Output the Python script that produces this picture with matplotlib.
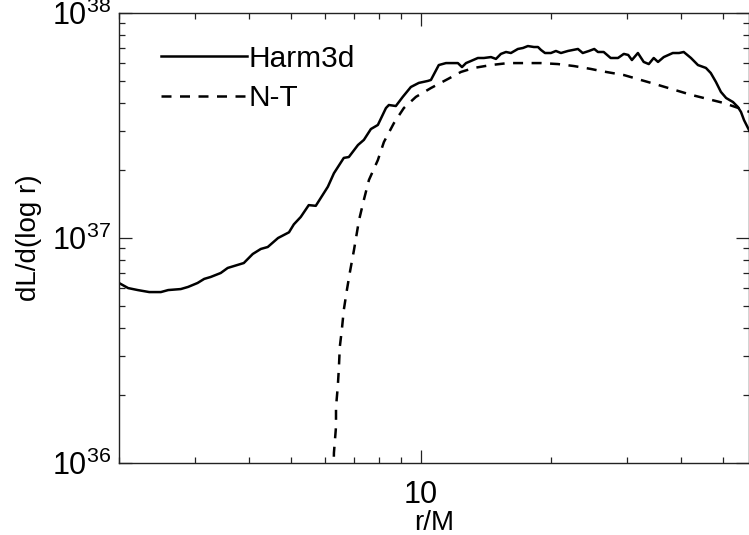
import numpy as np
import matplotlib
matplotlib.use("Agg")
import matplotlib.pyplot as plt
from matplotlib.ticker import LogLocator, NullFormatter, FuncFormatter, FixedLocator, FixedFormatter

# ------------------------------------------------------------
# data (r/M, dL/dlog r)
# ------------------------------------------------------------
R_HARM = [2.00, 2.10, 2.21, 2.35, 2.50, 2.60, 2.78, 2.89, 3.04, 3.15,
          3.26, 3.44, 3.57, 3.89, 4.08, 4.26, 4.42, 4.67, 4.95, 5.08,
          5.27, 5.50, 5.71, 6.09, 6.29, 6.63, 6.81, 7.15, 7.38, 7.66,
          7.95, 8.30, 8.43, 8.75, 9.08, 9.48, 9.89, 10.38, 10.55, 11.0,
          11.43, 11.74, 12.18, 12.45, 12.72, 13.06, 13.55, 13.99, 14.53, 14.92,
          15.32, 15.74, 16.16, 16.77, 17.23, 17.69, 18.27, 18.67, 18.97, 19.38,
          20.0, 20.54, 21.1, 21.9, 23.1, 23.7, 24.5, 25.2, 25.7, 26.5,
          27.5, 28.6, 29.5, 30.2, 30.8, 31.8, 32.8, 33.7, 34.6, 35.4,
          36.5, 38.3, 39.6, 40.6, 42.2, 43.8, 45.7, 46.9, 48.2, 49.5,
          50.9, 52.8, 54.2, 55.1, 56.0, 57.8]
L_HARM = [6.31, 5.99, 5.87, 5.75, 5.75, 5.87, 5.93, 6.06, 6.31, 6.58,
          6.71, 6.99, 7.36, 7.74, 8.49, 8.94, 9.12, 10.0, 10.6, 11.5,
          12.4, 14.0, 13.9, 16.9, 19.4, 22.7, 22.9, 25.9, 27.3, 30.5,
          31.8, 37.8, 39.0, 38.6, 42.4, 46.9, 48.9, 49.9, 50.4, 58.7,
          59.9, 59.9, 59.9, 57.5, 59.9, 61.2, 63.1, 63.1, 63.7, 62.5,
          65.8, 67.1, 66.4, 69.2, 69.9, 71.3, 70.6, 70.6, 68.5, 66.4,
          66.4, 67.8, 66.4, 67.8, 69.2, 66.4, 67.8, 69.2, 67.1, 67.1,
          63.1, 63.1, 65.8, 65.1, 61.8, 66.4, 60.6, 59.3, 63.1, 60.6,
          63.7, 66.4, 66.4, 67.1, 63.1, 58.7, 57.0, 54.1, 49.4, 44.6,
          41.9, 40.2, 38.2, 36.3, 33.4, 29.6]  # units of 1e36

R_NT = [6.25, 6.29, 6.36, 6.36, 6.42, 6.46, 6.49, 6.56, 6.63, 6.74,
        6.85, 7.00, 7.19, 7.38, 7.58, 7.95, 8.21, 8.66, 9.13, 9.74,
        10.55, 11.55, 12.38, 13.27, 14.53, 15.91, 17.32, 18.97, 20.77, 22.62,
        24.76, 26.13, 29.5, 35.4, 42.2, 50.3, 57.8]
L_NT = [0.5, 1.11, 1.45, 1.77, 2.18, 2.67, 3.28, 3.90, 4.79, 5.87,
        7.06, 8.85, 12.0, 14.8, 18.1, 22.2, 26.7, 32.4, 37.8, 42.4,
        46.4, 50.9, 54.7, 57.0, 58.7, 59.9, 59.9, 59.9, 59.3, 58.1,
        56.4, 55.2, 53.0, 47.9, 43.3, 39.8, 36.3]  # units of 1e36

SCALE = 1e36
LABELS = ["Harm3d", "N-T"]
X_LIM = (2.0, 57.5)
Y_LIM = (1e36, 1e38)
Y_TICKS = [1e36, 1e37, 1e38]
Y_TICK_LABELS = [r"$\mathregular{10^{36}}$", r"$\mathregular{10^{37}}$", r"$\mathregular{10^{38}}$"]

plt.rcParams["font.family"] = ["Liberation Sans", "DejaVu Sans"]
plt.rcParams["mathtext.fontset"] = "custom"
plt.rcParams["mathtext.rm"] = "Liberation Sans"
plt.rcParams["mathtext.it"] = "Liberation Sans:italic"
plt.rcParams["mathtext.bf"] = "Liberation Sans:bold"


def main():
    fig = plt.figure(figsize=(7.49, 5.35), dpi=100)
    ax = fig.add_axes([119 / 749, 1 - 463 / 535, 630 / 749, 450 / 535])

    ax.plot(R_HARM, np.array(L_HARM) * SCALE, color="black", lw=1.8, label=LABELS[0])
    ax.plot(R_NT, np.array(L_NT) * SCALE, color="black", lw=1.8,
            dashes=(4.0, 3.4), label=LABELS[1])

    ax.set_xscale("log")
    ax.set_yscale("log")
    ax.set_xlim(*X_LIM)
    ax.set_ylim(*Y_LIM)

    ax.xaxis.set_major_locator(LogLocator(base=10))
    ax.xaxis.set_minor_locator(LogLocator(base=10, subs=np.arange(2, 10)))
    ax.xaxis.set_major_formatter(FuncFormatter(lambda v, p: "%g" % v))
    ax.xaxis.set_minor_formatter(NullFormatter())

    ax.yaxis.set_major_locator(FixedLocator(Y_TICKS))
    ax.yaxis.set_major_formatter(FixedFormatter(Y_TICK_LABELS))
    ax.yaxis.set_minor_locator(LogLocator(base=10, subs=np.arange(2, 10)))
    ax.yaxis.set_minor_formatter(NullFormatter())

    ax.tick_params(which="both", direction="in", top=True, right=True,
                   color="#222222", width=0.9)
    ax.tick_params(which="major", length=9.5, labelsize=22, pad=6)
    ax.tick_params(axis="x", which="major", pad=12)
    ax.tick_params(which="minor", length=4.5)
    for s in ax.spines.values():
        s.set_linewidth(1.0)
        s.set_color("#222222")

    ax.set_xlabel("r/M", fontsize=20, labelpad=0)
    ax.set_ylabel("dL/d(log r)", fontsize=20, labelpad=7)

    ax.legend(loc="upper left", bbox_to_anchor=(0.066, 0.929), frameon=False,
              fontsize=21.5, handlelength=2.9, handletextpad=0.05,
              labelspacing=0.37, borderpad=0, borderaxespad=0)

    fig.savefig("out.png", dpi=100)
    plt.close(fig)


if __name__ == "__main__":
    main()
